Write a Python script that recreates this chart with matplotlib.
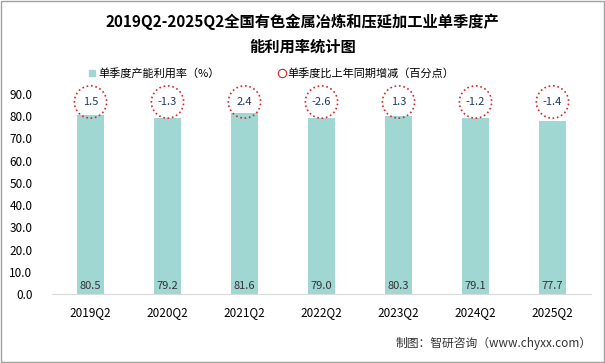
import matplotlib.pyplot as plt
from matplotlib.lines import Line2D
from matplotlib.patches import Rectangle

plt.rcParams['font.family'] = ['Noto Sans CJK SC', 'DejaVu Sans']

quarters = ['2019Q2', '2020Q2', '2021Q2', '2022Q2', '2023Q2', '2024Q2', '2025Q2']
utilization = [80.5, 79.2, 81.6, 79.0, 80.3, 79.1, 77.7]
yoy_change = ['1.5', '-1.3', '2.4', '-2.6', '1.3', '-1.2', '-1.4']
yticks = [0, 10, 20, 30, 40, 50, 60, 70, 80, 90]

bar_color = '#A0D7D3'
circle_color = '#D9262C'

fig = plt.figure(figsize=(6.05, 3.63), dpi=100)
ax = fig.add_axes([52 / 605, 1 - 294 / 363, 539 / 605, 200 / 363])

x = range(len(quarters))
ax.bar(x, utilization, width=0.34, color=bar_color, zorder=2)

for i, v in enumerate(utilization):
    ax.text(i, 3.5, f'{v:.1f}', ha='center', va='center', fontsize=8, color='#333333', zorder=3)

# circles with yoy change at fixed height
ax.scatter(x, [86.4] * len(quarters), s=540, facecolors='none', edgecolors=circle_color,
           linestyles=':', linewidths=1.2, zorder=4, clip_on=False)
for i, t in enumerate(yoy_change):
    ax.text(i, 86.4, t, ha='center', va='center', fontsize=8, color='#1F3864', zorder=5)

ax.set_xlim(-0.5, len(quarters) - 0.5)
ax.set_ylim(0, 90)
ax.set_yticks(yticks)
ax.set_yticklabels([f'{v:.1f}' for v in yticks], fontsize=8.5)
ax.set_xticks(list(x))
ax.set_xticklabels(quarters, fontsize=8.5)
ax.tick_params(axis='both', length=0)
ax.tick_params(axis='y', pad=14)
ax.tick_params(axis='x', pad=9)
for s in ['top', 'right', 'left']:
    ax.spines[s].set_visible(False)
ax.spines['bottom'].set_color('#D9D9D9')

fig.text(0.5, 1 - 22 / 363, '2019Q2-2025Q2全国有色金属冶炼和压延加工业单季度产',
         ha='center', va='center', fontsize=11, fontweight='bold')
fig.text(0.5, 1 - 47 / 363, '能利用率统计图',
         ha='center', va='center', fontsize=11, fontweight='bold')

handles = [
    Line2D([], [], marker='s', linestyle='none', markersize=5, markerfacecolor=bar_color,
           markeredgecolor=bar_color),
    Line2D([], [], marker='o', linestyle='none', markersize=6, markerfacecolor='white',
           markeredgecolor=circle_color, markeredgewidth=0.8),
]
fig.legend(handles, ['单季度产能利用率（%）', '单季度比上年同期增减（百分点）'],
           loc='center left', bbox_to_anchor=(88 / 605, 1 - 73 / 363), ncol=2, frameon=False,
           fontsize=8, handletextpad=0.1, columnspacing=5.2, handlelength=0.8,
           borderaxespad=0, borderpad=0)

fig.text(0.978, 1 - 343 / 363, '制图：智研咨询（www.chyxx.com）', ha='right', va='center',
         fontsize=8.5, color='#333333')

fig.add_artist(Rectangle((0.001, 0.002), 0.997, 0.995, transform=fig.transFigure,
                         fill=False, edgecolor='#A0A0A0', linewidth=1))

fig.savefig('out.png', dpi=100)
